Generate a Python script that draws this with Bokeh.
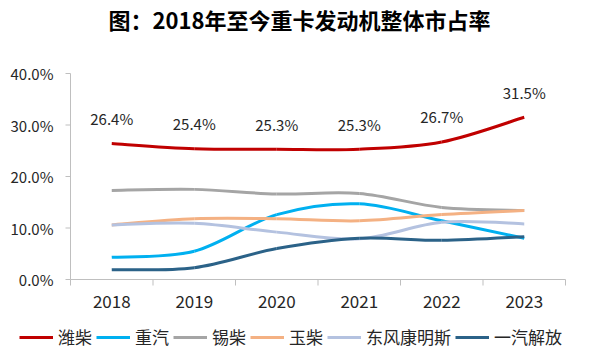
from bokeh.plotting import figure
from bokeh.models import Legend, LegendItem, ColumnDataSource, Range1d, Title
from bokeh.embed import file_html
from bokeh.resources import INLINE
from bokeh.core.properties import value

years = ["2018", "2019", "2020", "2021", "2022", "2023"]
weichai = [26.4, 25.4, 25.3, 25.3, 26.7, 31.5]
zhongqi = [4.3, 5.5, 12.6, 14.7, 11.4, 8.0]
xichai = [17.3, 17.5, 16.6, 16.7, 14.0, 13.4]
yuchai = [10.6, 11.8, 11.8, 11.4, 12.6, 13.4]
dfcummins = [10.6, 10.9, 9.2, 7.9, 11.1, 10.8]
jiefang = [1.9, 2.3, 6.0, 8.0, 7.6, 8.3]
weichai_labels = ["26.4%", "25.4%", "25.3%", "25.3%", "26.7%", "31.5%"]
y_ticks = [0.0, 0.1, 0.2, 0.3, 0.4]
y_tick_labels = ["0.0%", "10.0%", "20.0%", "30.0%", "40.0%"]

series = [
    ("潍柴", weichai, "#C00000"),
    ("重汽", zhongqi, "#00B0F0"),
    ("锡柴", xichai, "#A5A5A5"),
    ("玉柴", yuchai, "#F4B183"),
    ("东风康明斯", dfcummins, "#B4C2E0"),
    ("一汽解放", jiefang, "#2B6288"),
]

FONT = "Noto Sans CJK SC"
AXIS = "#BFBFBF"

# layout geometry (pixels)
LEFT, RIGHT, PLOT_W = 70, 35, 495
BELOW, PLOT_H, HEAD = 76, 206, 10
n = len(years)
px_x = PLOT_W / n            # pixels per category
px_y = PLOT_H / y_ticks[-1]  # pixels per unit share

p = figure(frame_width=LEFT + PLOT_W + RIGHT, frame_height=PLOT_H + BELOW + HEAD,
           output_backend="svg", toolbar_location=None,
           x_axis_location=None, y_axis_location=None,
           x_range=Range1d(-0.5 - LEFT / px_x, n - 0.5 + RIGHT / px_x),
           y_range=Range1d(-BELOW / px_y, y_ticks[-1] + HEAD / px_y),
           min_border_left=0, min_border_right=0, min_border_top=0, min_border_bottom=0)
p.title.text = "图：2018年至今重卡发动机整体市占率"
p.title.text_font = FONT
p.title.text_font_size = "22px"
p.title.text_font_style = "bold"
p.title.align = "left"
p.title.offset = 108
p.title.standoff = 0
p.title.text_color = "#000000"
p.add_layout(Title(text=" ", text_font=FONT, text_font_size="19px", standoff=0), "above")
p.outline_line_color = None
p.xgrid.visible = False
p.ygrid.visible = False

xs = list(range(n))

# axes
p.segment(x0=[-0.5], y0=[0], x1=[n - 0.5], y1=[0], line_color=AXIS, line_width=1)
p.segment(x0=[-0.5], y0=[0], x1=[-0.5], y1=[y_ticks[-1]], line_color=AXIS, line_width=1)
bounds = [i - 0.5 for i in range(n + 1)]
p.segment(x0=bounds, y0=[0] * len(bounds), x1=bounds, y1=[-6 / px_y] * len(bounds),
          line_color=AXIS, line_width=1)
p.segment(x0=[-0.5] * len(y_ticks), y0=y_ticks, x1=[-0.5 - 5 / px_x] * len(y_ticks), y1=y_ticks,
          line_color=AXIS, line_width=1)
p.text(x=[-0.5] * len(y_ticks), y=y_ticks, text=y_tick_labels, x_offset=-17,
       text_align="right", text_baseline="middle",
       text_font=value(FONT), text_font_size="15px", text_color="#262626")
p.text(x=xs, y=[0] * n, text=years, y_offset=22, text_align="center", text_baseline="middle",
       text_font=value(FONT), text_font_size="17px", text_color="#262626")


def bez_segments(vals):
    v = [y / 100 for y in vals]
    m = len(v)
    seg = dict(x0=[], y0=[], x1=[], y1=[], cx0=[], cy0=[], cx1=[], cy1=[])
    for i in range(m - 1):
        p0 = (xs[max(i - 1, 0)], v[max(i - 1, 0)])
        p1 = (xs[i], v[i])
        p2 = (xs[i + 1], v[i + 1])
        p3 = (xs[min(i + 2, m - 1)], v[min(i + 2, m - 1)])
        seg["x0"].append(p1[0]); seg["y0"].append(p1[1])
        seg["x1"].append(p2[0]); seg["y1"].append(p2[1])
        seg["cx0"].append(p1[0] + (p2[0] - p0[0]) / 6)
        seg["cy0"].append(p1[1] + (p2[1] - p0[1]) / 6)
        seg["cx1"].append(p2[0] - (p3[0] - p1[0]) / 6)
        seg["cy1"].append(p2[1] - (p3[1] - p1[1]) / 6)
    return seg


items = []
for name, vals, color in series:
    src = ColumnDataSource(bez_segments(vals))
    r = p.bezier(x0="x0", y0="y0", x1="x1", y1="y1", cx0="cx0", cy0="cy0", cx1="cx1", cy1="cy1",
                 source=src, line_color=color, line_width=3)
    items.append(LegendItem(label=name, renderers=[r]))

lab = ColumnDataSource(dict(x=xs, y=[w / 100 for w in weichai], t=weichai_labels))
p.text(x="x", y="y", text="t", source=lab, y_offset=-25, text_align="center", text_baseline="middle",
       text_font=value(FONT), text_font_size="15px", text_color="#262626")

legend = Legend(items=items, orientation="horizontal", border_line_color=None,
                background_fill_alpha=0, location=(19, 6),
                label_text_font=FONT, label_text_font_size="17px", label_text_color="#262626",
                glyph_width=34, label_standoff=5, spacing=4, padding=2, margin=0)
p.add_layout(legend, "center")

open("out.html", "w").write(file_html(p, INLINE))
